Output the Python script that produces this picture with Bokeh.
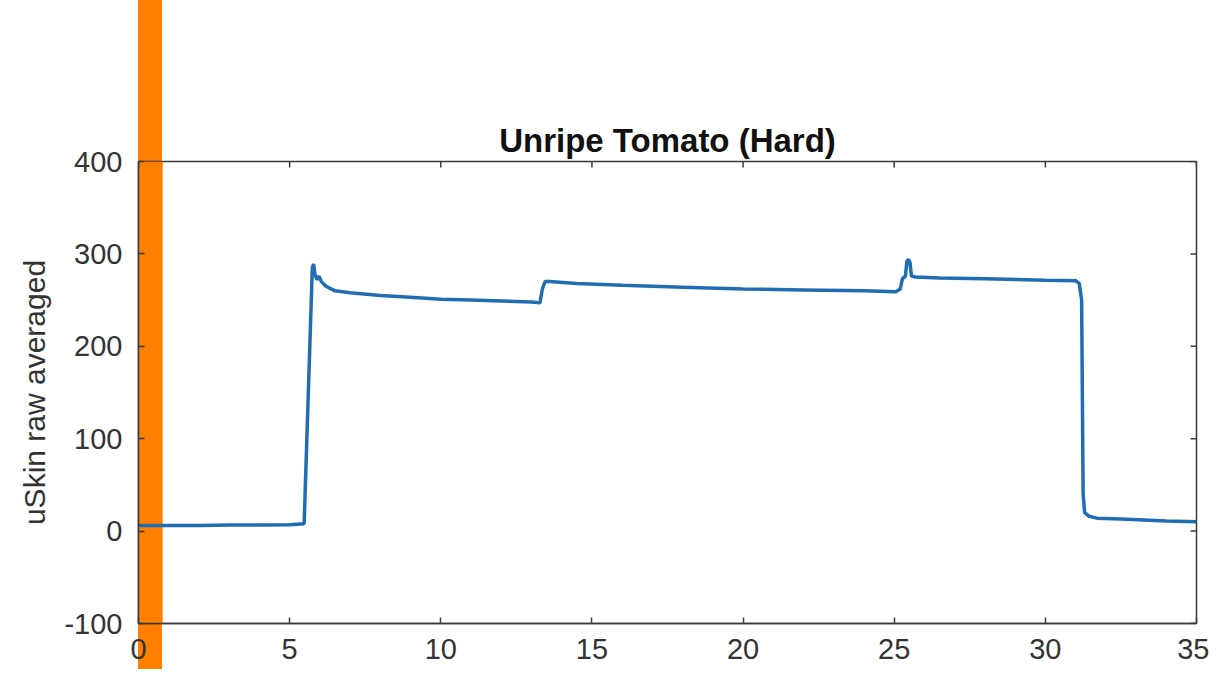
from bokeh.plotting import figure
from bokeh.models import LinearAxis, BoxAnnotation, Range1d, FixedTicker
from bokeh.embed import file_html
from bokeh.resources import INLINE

# ---- data ----
time_s = [0, 1, 2, 3, 4, 5, 5.48, 5.75, 5.79, 5.84, 5.9, 5.97, 6.05, 6.2, 6.5,
          7.0, 8, 9, 10, 11, 12, 13, 13.28, 13.36, 13.45, 13.6, 14.5, 16, 18,
          20, 22, 24, 25.05, 25.2, 25.27, 25.37, 25.42, 25.47, 25.52, 25.57,
          25.7, 26.5, 28, 30, 31.0, 31.12, 31.2, 31.25, 31.3, 31.45, 31.7,
          32.5, 34, 35]
raw_avg = [6, 6, 6, 6.5, 6.5, 7, 8, 285, 289, 278, 272, 276, 270, 265, 260,
           258, 255, 253, 251, 250, 249, 248, 247, 262, 270, 270, 268, 266, 264,
           262, 261, 260, 259, 262, 273, 276, 292, 294, 291, 276,
           275, 274, 273, 271.5, 271, 268, 250, 40, 20, 16, 14,
           13, 11, 10]
band_start, band_end = 0.0, 0.8
x_ticks = [0, 5, 10, 15, 20, 25, 30, 35]
y_ticks = [-100, 0, 100, 200, 300, 400]
x_min, x_max = 0, 35
y_min, y_max = -100, 400
title_text = "Unripe Tomato (Hard)"
y_label = "uSkin raw averaged"

FONT = "Liberation Sans"
AX = "#3a3a3a"
ORANGE = "#FF8000"

# layout (pixels)
W, H = 1209, 669
LEFT, TOP = 138, 161
FRAME_W, FRAME_H = 1058, 462
RIGHT = W - LEFT - FRAME_W
BOTTOM = H - TOP - FRAME_H

p = figure(width=W, height=H, output_backend="svg", toolbar_location=None,
           x_range=Range1d(x_min, x_max), y_range=Range1d(y_min, y_max),
           min_border_left=LEFT, min_border_right=RIGHT, min_border_top=TOP,
           min_border_bottom=BOTTOM, x_axis_location=None, y_axis_location=None)
p.grid.visible = False
p.outline_line_color = AX
p.outline_line_width = 1.5
p.background_fill_color = None
p.border_fill_color = None

# the orange band continues above and below the axes box (page background)
band_l = LEFT + (band_start - x_min) / (x_max - x_min) * FRAME_W
band_r = LEFT + (band_end - x_min) / (x_max - x_min) * FRAME_W
p.styles = {"background": (f"linear-gradient(to right, #ffffff {band_l:.1f}px, "
                           f"{ORANGE} {band_l:.1f}px, {ORANGE} {band_r:.1f}px, "
                           f"#ffffff {band_r:.1f}px)")}

p.title.text = title_text
p.title.text_font = FONT
p.title.text_font_size = "33px"
p.title.text_font_style = "bold"
p.title.text_color = "#111111"
p.title.align = "center"
p.title.offset = 0
p.title.standoff = 6

def style(ax):
    ax.axis_line_color = AX
    ax.axis_line_width = 1.5
    ax.major_tick_line_color = AX
    ax.major_tick_line_width = 1.5
    ax.major_tick_in = 6
    ax.major_tick_out = 0
    ax.minor_tick_line_color = None
    ax.major_label_text_font = FONT
    ax.major_label_text_color = "#333333"
    ax.major_label_text_font_size = "29px"

xb = LinearAxis(ticker=FixedTicker(ticks=x_ticks))
style(xb)
xb.major_label_standoff = 15
p.add_layout(xb, "below")

yl = LinearAxis(ticker=FixedTicker(ticks=y_ticks), axis_label=y_label)
style(yl)
yl.major_label_standoff = 16
yl.major_label_overrides = {t: str(t) for t in y_ticks}
yl.axis_label_text_font = FONT
yl.axis_label_text_font_size = "30px"
yl.axis_label_text_font_style = "normal"
yl.axis_label_text_color = "#333333"
yl.axis_label_standoff = 10
p.add_layout(yl, "left")

# band inside the axes box, through the data scales
band = BoxAnnotation(left=band_start, right=band_end, fill_color=ORANGE,
                     fill_alpha=1.0, line_color=None, level="underlay")
p.add_layout(band)

# inner ticks on top and right edges of the box
tick_dx = 6 * (x_max - x_min) / FRAME_W
tick_dy = 6 * (y_max - y_min) / FRAME_H
p.segment(x0=x_ticks, y0=[y_max] * len(x_ticks), x1=x_ticks,
          y1=[y_max - tick_dy] * len(x_ticks), line_color=AX, line_width=1.5)
p.segment(x0=[x_max] * len(y_ticks), y0=y_ticks, x1=[x_max - tick_dx] * len(y_ticks),
          y1=y_ticks, line_color=AX, line_width=1.5)

p.line(time_s, raw_avg, line_color="#1f6db2", line_width=3.5)

open("out.html", "w").write(file_html(p, INLINE))
